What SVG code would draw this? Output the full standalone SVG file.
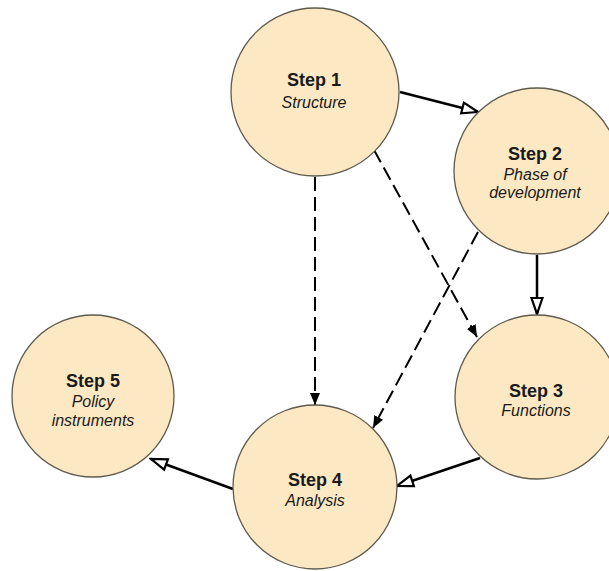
<svg xmlns="http://www.w3.org/2000/svg" width="609" height="571" viewBox="0 0 609 571">
<style>
.node{fill:#fce9c4;stroke:#5e5a4e;stroke-width:1.3}
.t{font-family:"Liberation Sans",Arial,sans-serif;fill:#1a1a1a;text-anchor:middle}
.b{font-weight:bold;font-size:18px}
.i{font-style:italic;font-size:16px}
.solid{stroke:#000;stroke-width:2.5;fill:none}
.dash{stroke:#000;stroke-width:2;fill:none;stroke-dasharray:14 6}
</style>
<defs>
<marker id="hollow" markerUnits="userSpaceOnUse" viewBox="0 0 20 16" markerWidth="20" markerHeight="16" refX="18" refY="8" orient="auto">
<path d="M2,2.5 L18,8 L2,13.5 Z" fill="#fff" stroke="#000" stroke-width="2.2" stroke-linejoin="miter"/>
</marker>
<marker id="filled" markerUnits="userSpaceOnUse" viewBox="0 0 12 10" markerWidth="12" markerHeight="10" refX="12" refY="5" orient="auto">
<path d="M0,0 L12,5 L0,10 Z" fill="#000"/>
</marker>
</defs>
<rect width="609" height="571" fill="#fff"/>
<g id="connectors">
<line class="solid" x1="400" y1="92" x2="478" y2="112" marker-end="url(#hollow)"/>
<line class="solid" x1="537" y1="255" x2="537" y2="314" marker-end="url(#hollow)"/>
<line class="solid" x1="480" y1="458" x2="397" y2="486" marker-end="url(#hollow)"/>
<line class="solid" x1="233" y1="489" x2="151" y2="459" marker-end="url(#hollow)"/>
<line class="dash" x1="315" y1="177" x2="315" y2="405" marker-end="url(#filled)"/>
<line class="dash" x1="374" y1="150" x2="477" y2="337" marker-end="url(#filled)"/>
<line class="dash" x1="478" y1="232" x2="373" y2="428" marker-end="url(#filled)"/>
</g>
<g id="step1">
<circle class="node" cx="315" cy="92" r="84"/>
<text class="t b" x="314" y="86">Step 1</text>
<text class="t i" x="314" y="108">Structure</text>
</g>
<g id="step2">
<circle class="node" cx="537" cy="171" r="83"/>
<text class="t b" x="535" y="160">Step 2</text>
<text class="t i" x="535" y="180">Phase of</text>
<text class="t i" x="535" y="198">development</text>
</g>
<g id="step3">
<circle class="node" cx="537" cy="397" r="82"/>
<text class="t b" x="536" y="397">Step 3</text>
<text class="t i" x="536" y="416">Functions</text>
</g>
<g id="step4">
<circle class="node" cx="315" cy="487" r="82"/>
<text class="t b" x="315" y="486">Step 4</text>
<text class="t i" x="315" y="506">Analysis</text>
</g>
<g id="step5">
<circle class="node" cx="93" cy="396" r="81"/>
<text class="t b" x="93" y="387">Step 5</text>
<text class="t i" x="93" y="407">Policy</text>
<text class="t i" x="93" y="426">instruments</text>
</g>
</svg>
